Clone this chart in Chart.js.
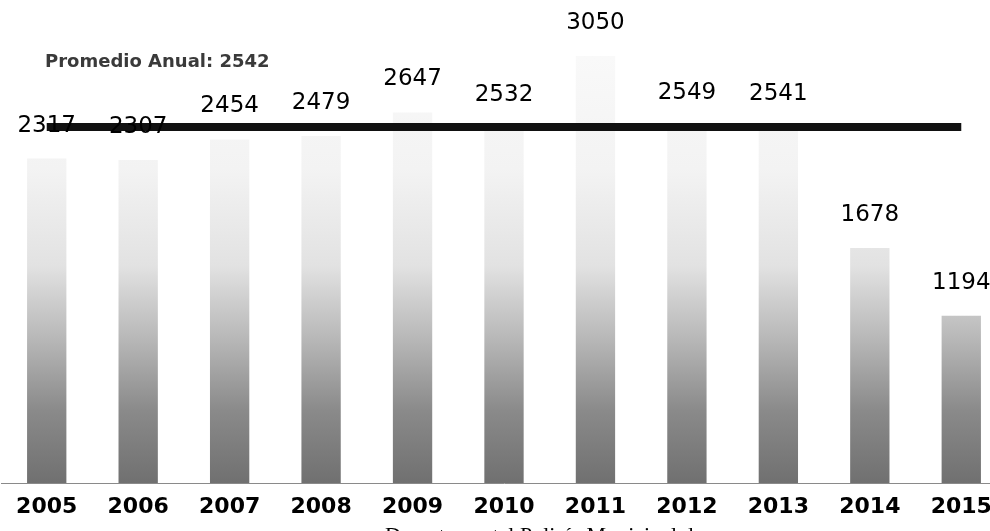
<!DOCTYPE html>
<html>
<head>
<meta charset="utf-8">
<script src="https://cdn.jsdelivr.net/npm/chart.js@4/dist/chart.umd.min.js"></script>
<style>
    html, body { margin: 0; padding: 0; background: #fff; overflow: hidden; }
    #wrap { width: 1010px; height: 531px; }
</style>
</head>
<body>
<div id="wrap"><canvas id="barChart"></canvas></div>
<script>
// Datos (lectura del gráfico)
const years = ['2005', '2006', '2007', '2008', '2009', '2010', '2011', '2012', '2013', '2014', '2015'];
const totals = [2317, 2307, 2454, 2479, 2647, 2532, 3050, 2549, 2541, 1678, 1194];
const promedio = 2542;
const promedioLinea = [2542, 2542, 2542, 2542, 2542, 2542, 2542, 2542, 2542, 2542, 2542];
const promedioTexto = 'Promedio Anual: ' + promedio;
const fuenteTexto = 'Departamental Policía Municipal de';

// Relleno gris que se aclara hacia arriba (como el punteado del original)
function barFill(context) {
    const chart = context.chart;
    const area = chart.chartArea;
    if (!area) return '#aaaaaa';
    const g = chart.ctx.createLinearGradient(0, area.bottom, 0, area.top);
    g.addColorStop(0, '#707070');
    g.addColorStop(0.15, '#8a8a8a');
    g.addColorStop(0.3, '#b8b8b8');
    g.addColorStop(0.45, '#e2e2e2');
    g.addColorStop(0.65, '#f3f3f3');
    g.addColorStop(1, '#fcfcfc');
    return g;
}

// Etiquetas de valor, texto del promedio y fuente
const textos = {
    id: 'textos',
    afterDatasetsDraw(chart) {
        const c = chart.ctx;
        const meta = chart.getDatasetMeta(1);
        c.save();
        c.fillStyle = '#000';
        c.font = '23px "DejaVu Sans"';
        c.textAlign = 'center';
        c.textBaseline = 'middle';
        meta.data.forEach((bar, i) => {
            c.fillText(String(totals[i]), bar.x, bar.y - 33);
        });

        c.fillStyle = '#3a3a3a';
        c.font = 'bold 18px "DejaVu Sans"';
        c.textAlign = 'left';
        c.fillText(promedioTexto, 45, 62);

        c.fillStyle = '#000';
        c.font = '22px "Liberation Serif"';
        c.textBaseline = 'top';
        c.fillText(fuenteTexto, 385, 525);
        c.restore();
    }
};

const barChart = new Chart(document.getElementById('barChart'), {
    data: {
        labels: years,
        datasets: [{
            type: 'line',
            label: promedioTexto,
            data: promedioLinea,
            borderColor: '#111',
            borderWidth: 8,
            pointRadius: 0,
            fill: false,
            order: 0
        }, {
            type: 'bar',
            label: 'Total',
            data: totals,
            backgroundColor: barFill,
            borderWidth: 0,
            categoryPercentage: 1,
            barPercentage: 0.43,
            order: 1
        }]
    },
    options: {
        responsive: true,
        maintainAspectRatio: false,
        animation: false,
        layout: {
            padding: { left: 1, right: 3, top: 0, bottom: 0 }
        },
        plugins: {
            legend: { display: false },
            tooltip: { enabled: false }
        },
        scales: {
            x: {
                grid: { display: false },
                border: { display: true, color: '#8a8a8a', width: 1, dash: [3, 3] },
                ticks: {
                    color: '#000',
                    padding: 3,
                    maxRotation: 0,
                    font: { family: 'DejaVu Sans', size: 22, weight: 'bold' }
                },
                afterFit(scale) { scale.height = 48; }
            },
            y: {
                display: false,
                min: 0,
                max: 3450
            }
        }
    },
    plugins: [textos]
});
</script>
</body>
</html>
